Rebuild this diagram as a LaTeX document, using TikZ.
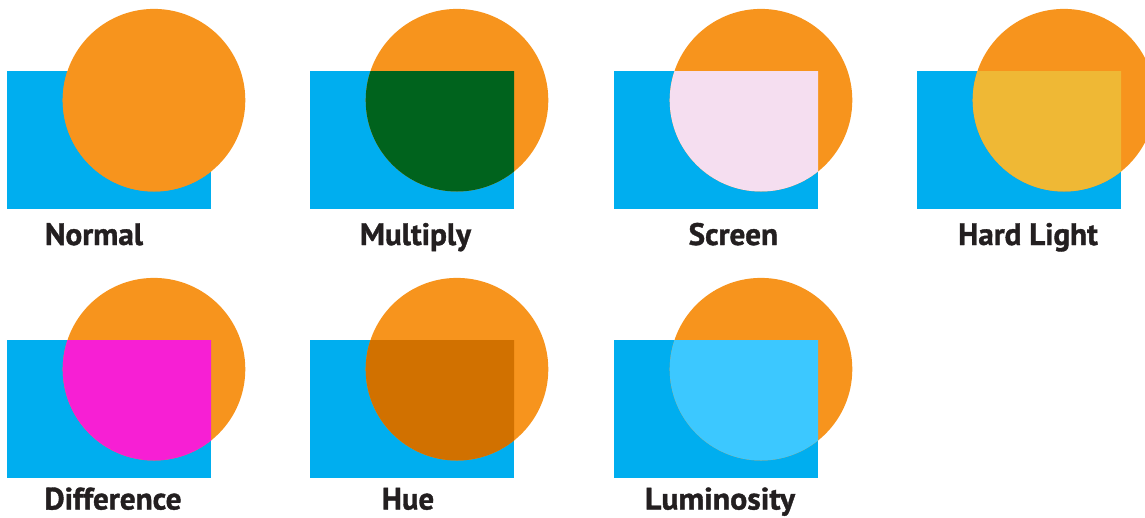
\documentclass[tikz,border=0pt]{standalone}
\usepackage{fontspec}
\usepackage{graphicx}
\setmainfont{PT Sans}
\newfontfamily\lblfont{PT Sans Bold}[FakeBold=1.2]
\definecolor{cyanbox}{HTML}{00AEEF}
\definecolor{orangedisc}{HTML}{F7941D}
\definecolor{multiplyc}{HTML}{00631D}
\definecolor{screenc}{HTML}{F5DEF0}
\definecolor{hardlightc}{HTML}{EFB835}
\definecolor{differencec}{HTML}{F71FD4}
\definecolor{huec}{HTML}{D17100}
\definecolor{luminosityc}{HTML}{3CC8FF}
\definecolor{labelink}{HTML}{231F20}
\tikzset{
  lbl/.style={anchor=base, inner sep=0pt, text=labelink,
    font=\fontsize{31}{36}\lblfont},
}
\newcommand\blendpanel[3]{%
  \fill[cyanbox] (#1,#2) rectangle ++(204,138);
  \fill[orangedisc] (#1+147,#2+29.2) circle[radius=91.3];
  \begin{scope}
    \clip (#1,#2) rectangle ++(204,138);
    \fill[#3] (#1+147,#2+29.2) circle[radius=91.3];
  \end{scope}
}
\newcommand\fitlabel[2]{\resizebox{#1pt}{\height}{#2}}
\begin{document}
\begin{tikzpicture}[x=1pt,y=-1pt]
  \useasboundingbox (0,0) rectangle (1145,517);
  \clip (0,0) rectangle (1145,517);
  % row 1
  \blendpanel{7}{71}{orangedisc}
  \blendpanel{310}{71}{multiplyc}
  \blendpanel{614}{71}{screenc}
  \blendpanel{917}{71}{hardlightc}
  % row 2
  \blendpanel{7}{340}{differencec}
  \blendpanel{310}{340}{huec}
  \blendpanel{614}{340}{luminosityc}
  % labels
  \node[lbl] (lnormal) at (94,245) {\fitlabel{98}{Normal}};
  \node[lbl] (lmultiply) at (415.5,245) {\fitlabel{111}{Multiply}};
  \node[lbl] (lscreen) at (733.3,245) {\fitlabel{89.4}{Screen}};
  \node[lbl] (lhardlight) at (1028,245) {\fitlabel{139.7}{Hard Light}};
  \node[lbl] (ldifference) at (113,509.5) {\fitlabel{137}{Difference}};
  \node[lbl] (lhue) at (408,509.5) {\fitlabel{52.3}{Hue}};
  \node[lbl] (lluminosity) at (720,509.5) {\fitlabel{150}{Luminosity}};
\end{tikzpicture}
\end{document}
